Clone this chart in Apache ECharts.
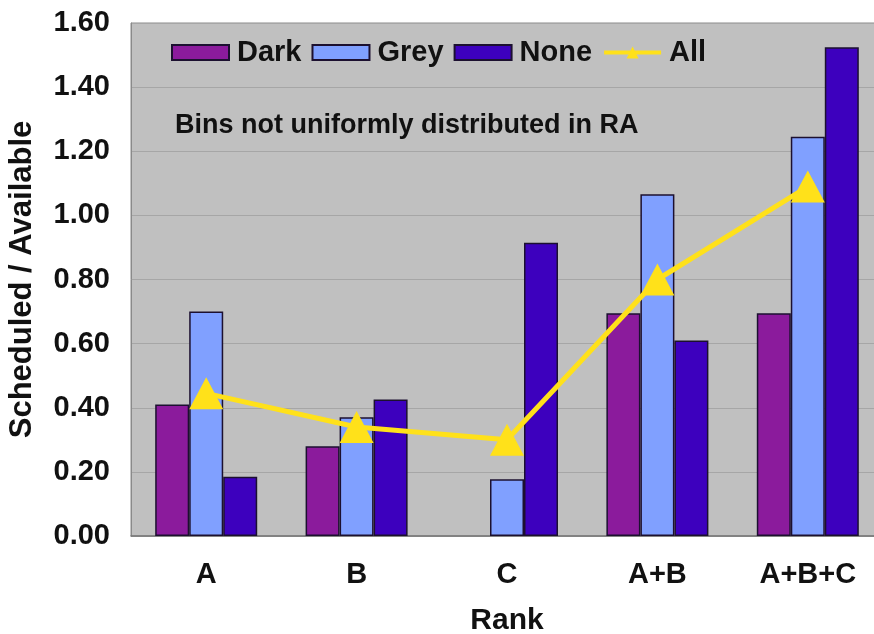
<!DOCTYPE html>
<html>
<head>
<meta charset="utf-8">
<script src="https://cdn.jsdelivr.net/npm/echarts@6/dist/echarts.min.js"></script>
<style>
  html, body { margin: 0; padding: 0; background: #ffffff; overflow: hidden; }
  #chart { width: 874px; height: 634px; }
</style>
</head>
<body>
<div id="chart"></div>
<script>
// Scheduled / available ratio per rank bin
const categories = ['A', 'B', 'C', 'A+B', 'A+B+C'];
const darkValues = [0.41, 0.28, null, 0.695, 0.695];
const greyValues = [0.70, 0.37, 0.177, 1.066, 1.245];
const noneValues = [0.185, 0.426, 0.915, 0.61, 1.524];
const allValues  = [0.445, 0.34, 0.30, 0.80, 1.09];
const yTicks = { min: 0, max: 1.6, step: 0.2 };

const FONT = '"Liberation Sans", Arial, Helvetica, sans-serif';
const barBorder = { borderColor: '#1c1030', borderWidth: 1.5 };

const chart = echarts.init(document.getElementById('chart'), null, { renderer: 'canvas' });

chart.setOption({
  animation: false,
  backgroundColor: '#ffffff',
  textStyle: { fontFamily: FONT },
  grid: {
    left: 131, top: 23, right: -9, bottom: 98,
    outerBoundsMode: 'none',
    containLabel: false,
    show: true,
    backgroundColor: '#c0c0c0',
    borderColor: '#8a8a8a',
    borderWidth: 1
  },
  legend: {
    left: 171, top: 38, padding: 0,
    itemWidth: 57, itemHeight: 15, itemGap: 10,
    textStyle: { fontFamily: FONT, fontSize: 29, fontWeight: 'bold', color: '#111', padding: [0, 0, 0, 3] },
    data: [
      { name: 'Dark', icon: 'rect' },
      { name: 'Grey', icon: 'rect' },
      { name: 'None', icon: 'rect' },
      { name: 'All', lineStyle: { width: 4 } }
    ]
  },
  graphic: [{
    type: 'text',
    left: 175, top: 112,
    style: {
      text: 'Bins not uniformly distributed in RA',
      font: 'bold 27px ' + FONT,
      fill: '#111'
    }
  }],
  xAxis: {
    type: 'category',
    data: categories,
    name: 'Rank',
    nameLocation: 'middle',
    nameGap: 70,
    nameTextStyle: { fontFamily: FONT, fontSize: 30, fontWeight: 'bold', color: '#111' },
    axisLine: { lineStyle: { color: '#777', width: 1.5 } },
    axisTick: { show: false },
    axisLabel: { margin: 24, fontFamily: FONT, fontSize: 29, fontWeight: 'bold', color: '#111' }
  },
  yAxis: {
    type: 'value',
    min: yTicks.min, max: yTicks.max, interval: yTicks.step,
    name: 'Scheduled / Available',
    nameLocation: 'middle',
    nameRotate: 90,
    nameGap: 93,
    nameTextStyle: { fontFamily: FONT, fontSize: 31, fontWeight: 'bold', color: '#111' },
    axisLine: { show: true, lineStyle: { color: '#8a8a8a', width: 1 } },
    axisTick: { show: false },
    axisLabel: {
      margin: 21, fontFamily: FONT, fontSize: 29, fontWeight: 'bold', color: '#111',
      formatter: v => v.toFixed(2)
    },
    splitLine: { lineStyle: { color: '#a6a6a6', width: 1 } }
  },
  series: [
    { name: 'Dark', type: 'bar', data: darkValues, barWidth: 34, barGap: '0%',
      itemStyle: Object.assign({ color: '#8b1b9c' }, barBorder) },
    { name: 'Grey', type: 'bar', data: greyValues, barWidth: 34, barGap: '0%',
      itemStyle: Object.assign({ color: '#80a0ff' }, barBorder) },
    { name: 'None', type: 'bar', data: noneValues, barWidth: 34, barGap: '0%',
      itemStyle: Object.assign({ color: '#3d00be' }, barBorder) },
    { name: 'All', type: 'line', data: allValues,
      symbol: 'triangle', symbolSize: [34, 32],
      lineStyle: { color: '#ffe11a', width: 5 },
      itemStyle: { color: '#ffe11a' },
      z: 5 }
  ]
});
</script>
</body>
</html>
